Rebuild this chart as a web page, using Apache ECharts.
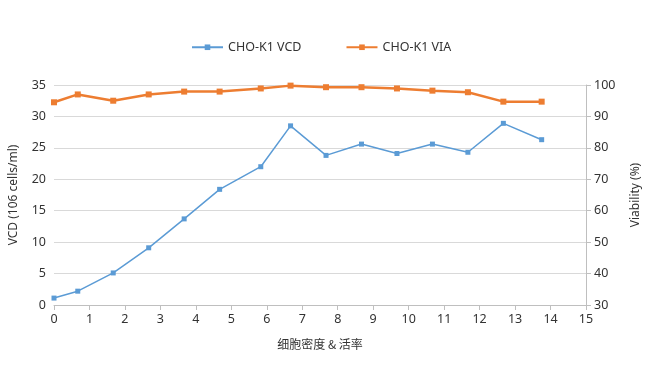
<!DOCTYPE html>
<html><head><meta charset="utf-8">
<script src="https://cdn.jsdelivr.net/npm/echarts@6/dist/echarts.min.js"></script>
<style>html,body{margin:0;padding:0;background:#fff}#c{width:650px;height:372px}</style>
</head><body><div id="c"></div>
<script>
const days = [0, 0.67, 1.67, 2.67, 3.67, 4.67, 5.83, 6.67, 7.67, 8.67, 9.67, 10.67, 11.67, 12.67, 13.75];
const vcd = [1.1, 2.2, 5.1, 9.1, 13.7, 18.4, 22.0, 28.5, 23.8, 25.6, 24.1, 25.6, 24.3, 28.9, 26.3];
const via = [94.5, 97.0, 95.0, 97.0, 97.9, 97.9, 98.9, 99.8, 99.3, 99.3, 98.9, 98.2, 97.7, 94.7, 94.7];
const leftTicks = {min: 0, max: 35, interval: 5};
const rightTicks = {min: 30, max: 100, interval: 10};
const xTicks = {min: 0, max: 15, interval: 1};
const names = ['CHO-K1 VCD', 'CHO-K1 VIA'];

const font = '"Noto Sans", "Noto Sans CJK SC", sans-serif';
const txt = '#333';
const chart = echarts.init(document.getElementById('c'), null, {renderer: 'canvas'});
chart.setOption({
  animation: false,
  textStyle: {fontFamily: font},
  legend: {
    top: 36, left: 186, itemGap: 44, itemWidth: 31, itemHeight: 7,
    textStyle: {fontFamily: font, fontSize: 12.5, color: txt},
    data: names
  },
  grid: {left: 51.5, right: 64, top: 85, bottom: 67, containLabel: false},
  xAxis: {
    type: 'value', min: xTicks.min, max: xTicks.max, interval: xTicks.interval,
    name: '细胞密度 & 活率', nameLocation: 'middle', nameGap: 33,
    nameTextStyle: {fontFamily: '"Noto Sans CJK SC", sans-serif', fontSize: 12, color: txt},
    axisLine: {show: true, lineStyle: {color: '#bfbfbf', width: 1}},
    axisTick: {show: true, length: 5, lineStyle: {color: '#bfbfbf'}},
    axisLabel: {fontSize: 12.5, color: txt, margin: 8, fontFamily: font},
    splitLine: {show: false}
  },
  yAxis: [{
    type: 'value', min: leftTicks.min, max: leftTicks.max, interval: leftTicks.interval,
    name: 'VCD (106 cells/ml)', nameLocation: 'middle', nameGap: 34, nameRotate: 90,
    nameTextStyle: {fontFamily: font, fontSize: 12, color: txt},
    axisLine: {show: false}, axisTick: {show: false},
    axisLabel: {fontSize: 12.5, color: txt, margin: 8, fontFamily: font},
    splitLine: {show: true, lineStyle: {color: '#d9d9d9', width: 1}}
  }, {
    type: 'value', min: rightTicks.min, max: rightTicks.max, interval: rightTicks.interval,
    position: 'right',
    name: 'Viability (%)', nameLocation: 'middle', nameGap: 44, nameRotate: 90,
    nameTextStyle: {fontFamily: font, fontSize: 12, color: txt},
    axisLine: {show: true, lineStyle: {color: '#bfbfbf', width: 1}},
    axisTick: {show: true, length: 5, lineStyle: {color: '#bfbfbf'}},
    axisLabel: {fontSize: 12.5, color: txt, margin: 8, fontFamily: font},
    splitLine: {show: false}
  }],
  series: [{
    name: names[0], type: 'line', yAxisIndex: 0,
    data: days.map((d, i) => [d, vcd[i]]),
    symbol: 'rect', symbolSize: 5, showAllSymbol: true,
    lineStyle: {color: '#5b9bd5', width: 1.5},
    itemStyle: {color: '#5b9bd5'}
  }, {
    name: names[1], type: 'line', yAxisIndex: 1,
    data: days.map((d, i) => [d, via[i]]),
    symbol: 'rect', symbolSize: 6, showAllSymbol: true,
    lineStyle: {color: '#ed7d31', width: 2.5},
    itemStyle: {color: '#ed7d31'}
  }]
});
</script></body></html>
